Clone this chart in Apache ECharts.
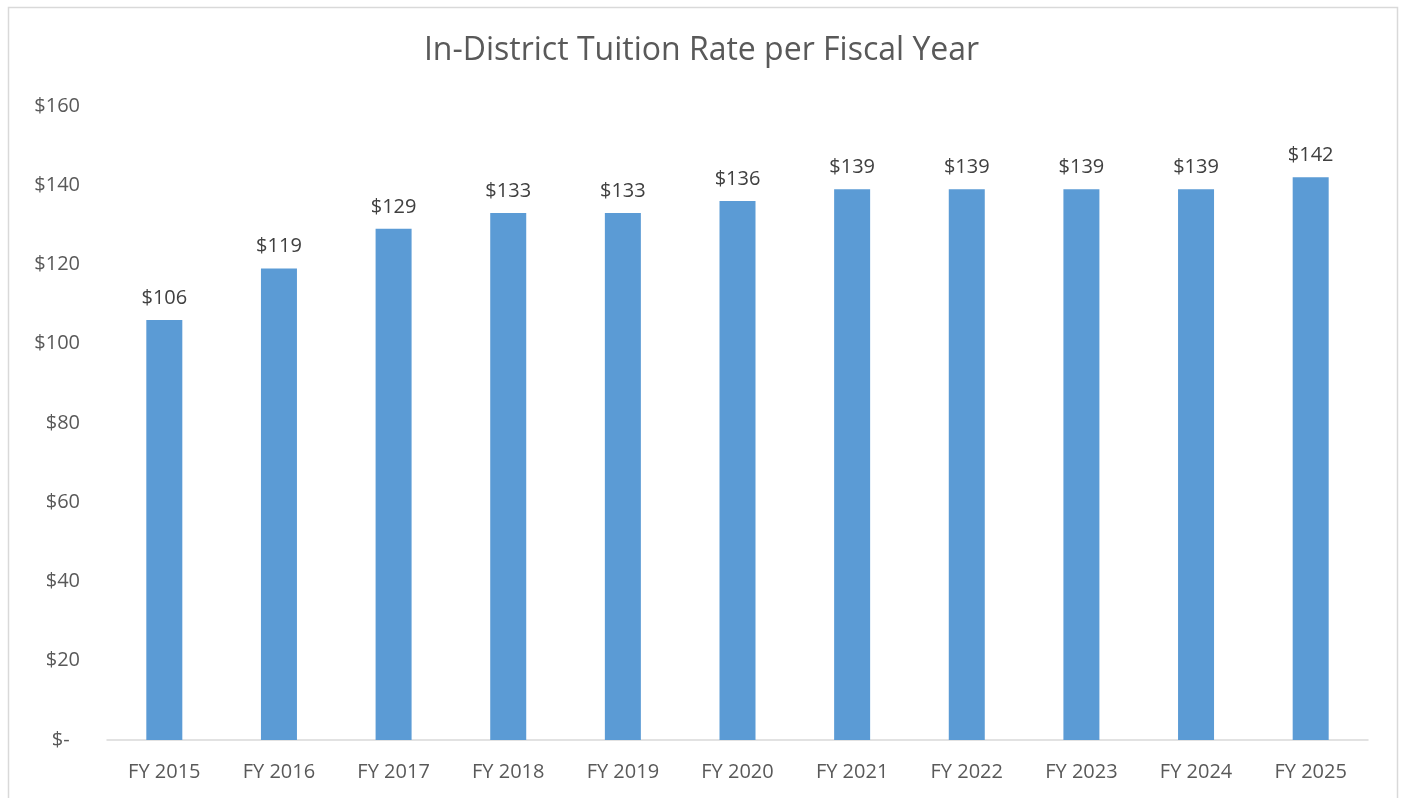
<!DOCTYPE html>
<html>
<head>
<meta charset="utf-8">
<script src="https://cdn.jsdelivr.net/npm/echarts@6/dist/echarts.min.js"></script>
<style>
body { margin: 0; background: #fff; }
</style>
</head>
<body>
<div id="ch" style="width: 1403px; height: 798px;"></div>
<script>
var years = ['FY 2015', 'FY 2016', 'FY 2017', 'FY 2018', 'FY 2019', 'FY 2020',
    'FY 2021', 'FY 2022', 'FY 2023', 'FY 2024', 'FY 2025']
var rates = [106, 119, 129, 133, 133, 136, 139, 139, 139, 139, 142]
var yTicks = [0, 20, 40, 60, 80, 100, 120, 140, 160]

var font = '"Open Sans", "Noto Sans", sans-serif'
var chartInst = echarts.init(document.getElementById('ch'))

var option = {
    animation: false,
    textStyle: { fontFamily: font },
    title: {
        text: 'In-District Tuition Rate per Fiscal Year',
        left: 'center',
        top: 30,
        textStyle: { fontSize: 32, fontWeight: 'normal', color: '#595959', fontFamily: font }
    },
    graphic: [{
        type: 'rect',
        shape: { x: 8.5, y: 7.5, width: 1389, height: 800 },
        style: { fill: 'none', stroke: '#d9d9d9', lineWidth: 1.5 },
        silent: true
    }],
    grid: { left: 107, right: 35, top: 106, bottom: 58 },
    xAxis: {
        type: 'category',
        data: years,
        axisLine: { lineStyle: { color: '#d9d9d9', width: 1.5 } },
        axisTick: { show: false },
        axisLabel: { color: '#595959', fontSize: 20, margin: 22 }
    },
    yAxis: {
        type: 'value',
        min: yTicks[0],
        max: yTicks[yTicks.length - 1],
        interval: 20,
        splitLine: { show: false },
        axisLine: { show: false },
        axisTick: { show: false },
        axisLabel: {
            color: '#595959',
            fontSize: 20,
            margin: 27,
            formatter: function(v) {
                return v === 0 ? '$-  ' : '$' + v
            }
        }
    },
    series: [{
        type: 'bar',
        data: rates,
        barWidth: 36,
        itemStyle: { color: '#5b9bd5' },
        label: {
            show: true,
            position: 'top',
            distance: 12,
            color: '#404040',
            fontSize: 20,
            formatter: function(p) {
                return '$' + p.value
            }
        }
    }]
}
chartInst.setOption(option)
</script>
</body>
</html>
